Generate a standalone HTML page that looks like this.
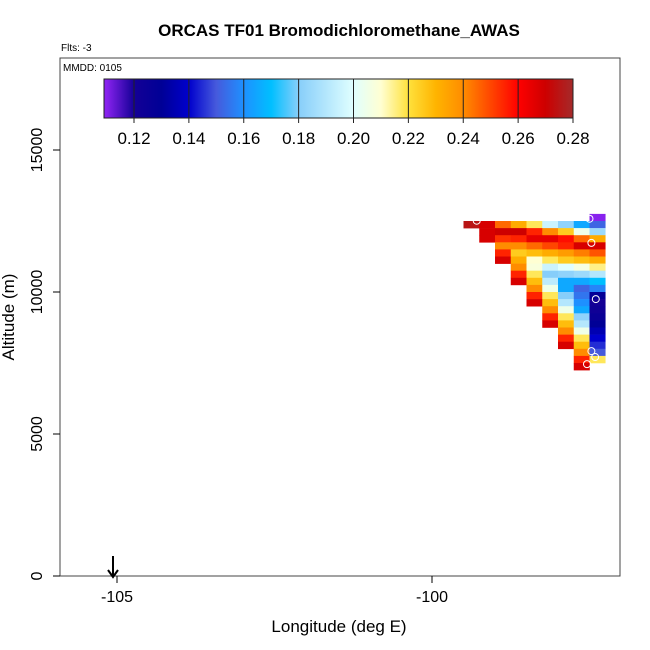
<!DOCTYPE html>
<html><head><meta charset="utf-8"><style>
html,body{margin:0;padding:0;background:#fff;}
svg{display:block;font-family:"Liberation Sans",sans-serif;}
</style></head><body>
<svg id="chart" width="650" height="650" xmlns="http://www.w3.org/2000/svg">
<text x="339" y="36" text-anchor="middle" font-size="17" font-weight="bold">ORCAS TF01 Bromodichloromethane_AWAS</text>
<text x="61" y="51" font-size="10">Flts: -3</text>
<rect x="60" y="58" width="560" height="518" fill="none" stroke="#444" stroke-width="1"/>
<text x="63" y="71" font-size="10">MMDD: 0105</text>
<g id="cells"></g>
<g id="pts"></g>
<g id="cbar"></g>
<g id="axes"></g>
<text x="339" y="632" text-anchor="middle" font-size="17">Longitude (deg E)</text>
<text transform="translate(14,317) rotate(-90)" text-anchor="middle" font-size="17">Altitude (m)</text>
<g><line x1="113" y1="556" x2="113" y2="576" stroke="#000" stroke-width="2"/><path d="M108,570 L113,577 L118,570" fill="none" stroke="#000" stroke-width="2"/></g>
</svg>
<script>
const lonStart = -99.5, lonStep = 0.25;
const altTop = 12750, altStep = 250;
// rows top->bottom, columns west->east; null = no data
const rowValues = [
 [null,null,null,null,null,null,null,null,0.11],
 [0.275,0.268,0.245,0.232,0.218,0.195,0.182,0.165,0.152],
 [null,0.268,0.27,0.27,0.255,0.24,0.225,0.205,0.185],
 [null,0.268,0.253,0.255,0.265,0.265,0.258,0.245,0.232],
 [null,null,0.24,0.24,0.245,0.25,0.255,0.268,0.268],
 [null,null,0.255,0.225,0.228,0.232,0.236,0.242,0.248],
 [null,null,0.268,0.232,0.21,0.218,0.225,0.228,0.232],
 [null,null,null,0.24,0.208,0.195,0.2,0.207,0.215],
 [null,null,null,0.255,0.218,0.18,0.182,0.185,0.19],
 [null,null,null,0.268,0.228,0.192,0.165,0.165,0.17],
 [null,null,null,null,0.24,0.205,0.165,0.152,0.158],
 [null,null,null,null,0.255,0.218,0.18,0.155,0.128],
 [null,null,null,null,0.268,0.228,0.19,0.16,0.12],
 [null,null,null,null,null,0.24,0.205,0.165,0.122],
 [null,null,null,null,null,0.255,0.218,0.182,0.125],
 [null,null,null,null,null,0.268,0.228,0.19,0.13],
 [null,null,null,null,null,null,0.24,0.205,0.135],
 [null,null,null,null,null,null,0.255,0.218,0.14],
 [null,null,null,null,null,null,0.268,0.228,0.145],
 [null,null,null,null,null,null,null,0.24,0.15],
 [null,null,null,null,null,null,null,0.255,0.218],
 [null,null,null,null,null,null,null,0.268,null]
];
const pointLon = [-99.29,-97.5,-97.47,-97.4,-97.47,-97.41,-97.54];
const pointAlt = [12510,12580,11730,9750,7920,7710,7460];
const xTicks = [-105,-100];
const yTicks = [0,5000,10000,15000];
const cbTicks = [0.12,0.14,0.16,0.18,0.20,0.22,0.24,0.26,0.28];

const X = lon => 432 + (lon + 100) * 63;
const Y = alt => 576 - alt * 0.0284;
const stops = [[0.11,[136,34,238]],[0.12,[20,0,150]],[0.13,[0,0,150]],[0.14,[0,0,205]],[0.15,[70,90,220]],[0.16,[30,144,255]],[0.17,[0,191,255]],[0.18,[135,206,250]],[0.20,[224,255,255]],[0.21,[255,255,210]],[0.22,[255,225,60]],[0.23,[255,180,0]],[0.24,[255,140,0]],[0.25,[255,70,0]],[0.26,[255,0,0]],[0.27,[205,0,0]],[0.28,[165,42,42]]];
function col(v){
  if(v<=stops[0][0]) return 'rgb('+stops[0][1]+')';
  for(let i=1;i<stops.length;i++){ if(v<=stops[i][0]){const a=stops[i-1],b=stops[i],t=(v-a[0])/(b[0]-a[0]);
    return 'rgb('+a[1].map((c,k)=>Math.round(c+(b[1][k]-c)*t)).join(',')+')';}}
  return 'rgb('+stops[stops.length-1][1]+')';
}
const NS='http://www.w3.org/2000/svg';
function mk(tag,attrs,parent){const e=document.createElementNS(NS,tag);for(const k in attrs)e.setAttribute(k,attrs[k]);parent.appendChild(e);return e;}
const cells=document.getElementById('cells');
rowValues.forEach((row,r)=>row.forEach((v,c)=>{ if(v==null)return;
  const x0=X(lonStart+c*lonStep),x1=X(lonStart+(c+1)*lonStep),y0=Y(altTop-r*altStep),y1=Y(altTop-(r+1)*altStep);
  const e=mk('rect',{x:x0,y:y0,width:x1-x0+0.3,height:y1-y0+0.3,fill:col(v)},cells);
  
  
}));
const pts=document.getElementById('pts');
pointLon.forEach((lo,i)=>{const e=mk('circle',{cx:X(lo),cy:Y(pointAlt[i]),r:3.5,fill:'none',stroke:'#fff','stroke-width':1},pts);
  
  });
// colorbar
const cb=document.getElementById('cbar');
const CX=v=>134+(v-0.12)/0.16*439;
const defs=mk('defs',{},cb);const g=mk('linearGradient',{id:'grad',x1:'0',x2:'1',y1:'0',y2:'0'},defs);
stops.forEach(s=>mk('stop',{offset:((CX(s[0])-104)/469),'stop-color':col(s[0])},g));
const bar=mk('rect',{x:104,y:79,width:469,height:39,fill:'url(#grad)',stroke:'#222','stroke-width':1},cb);


cbTicks.forEach(t=>{const x=CX(t);mk('line',{x1:x,x2:x,y1:79,y2:123,stroke:'#222','stroke-width':1},cb);
  const tx=mk('text',{x:x,y:144,'text-anchor':'middle','font-size':17},cb);tx.textContent=t.toFixed(2);
  
  });
// axes
const ax=document.getElementById('axes');
xTicks.forEach(t=>{const x=X(t);mk('line',{x1:x,x2:x,y1:576,y2:583,stroke:'#000'},ax);
  const tx=mk('text',{x:x,y:602,'text-anchor':'middle','font-size':16},ax);tx.textContent=t;
  
  });
yTicks.forEach(t=>{const y=Y(t);mk('line',{x1:53,x2:60,y1:y,y2:y,stroke:'#000'},ax);
  const tx=mk('text',{transform:'translate(42,'+y+') rotate(-90)','text-anchor':'middle','font-size':16},ax);tx.textContent=t;
  
  });
</script>
</body></html>
